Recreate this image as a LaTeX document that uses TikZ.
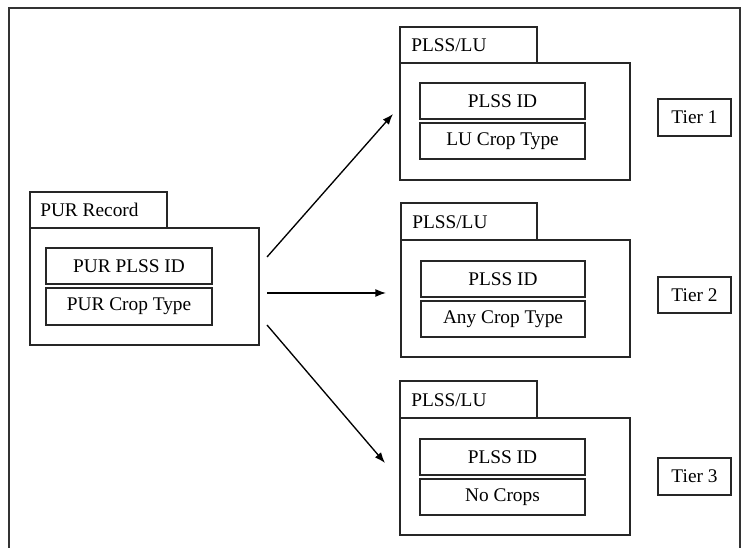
\documentclass[tikz,border=0pt]{standalone}
\usepackage{fontspec}
\setmainfont{Liberation Serif}
\usetikzlibrary{fit,arrows.meta}
\begin{document}
\begin{tikzpicture}[x=0.75pt,y=-0.75pt,
  box/.style={draw=black!85, line width=0.8pt, inner sep=0pt},
  lbl/.style={font=\fontsize{14.5}{16}\selectfont, inner sep=0pt},
  txt/.style={label={[lbl]center:#1}},
  arr/.style={line width=1pt, -{Latex[length=8pt,width=6pt]}}]
\useasboundingbox (0,0) rectangle (743,548);
% outer frame, open at the bottom
\draw[line width=1.2pt, black!80] (9,548) -- (9,8) -- (740,8) -- (740,548);

% PUR record
\node[box, fit={(30,192) (167,228)}] (purtab) {};
\node[lbl, anchor=west] (purtabtxt) at (40,210) {PUR Record};
\node[box, fit={(30,228) (259,345)}] (pur) {};
\node[box, fit={(46,248) (212,284)}, txt={PUR PLSS ID}] (purid) {};
\node[box, fit={(46,288) (212,325)}, txt={PUR Crop Type}] (purcrop) {};

% PLSS/LU tier 1
\node[box, fit={(400,27) (537,63)}] (tabA) {};
\node[lbl, anchor=west] (tabAtxt) at (411,45) {PLSS/LU};
\node[box, fit={(400,63) (630,180)}] (plA) {};
\node[box, fit={(420,83) (585,119)}, txt={PLSS ID}] (idA) {};
\node[box, fit={(420,123) (585,159)}, txt={LU Crop Type}] (cropA) {};
\node[box, fit={(658,99) (731,136)}, txt={Tier 1}] (tierA) {};

% PLSS/LU tier 2
\node[box, fit={(401,203) (537,240)}] (tabB) {};
\node[lbl, anchor=west] (tabBtxt) at (412,222) {PLSS/LU};
\node[box, fit={(401,240) (630,357)}] (plB) {};
\node[box, fit={(421,261) (585,297)}, txt={PLSS ID}] (idB) {};
\node[box, fit={(421,301) (585,337)}, txt={Any Crop Type}] (cropB) {};
\node[box, fit={(658,277) (731,313)}, txt={Tier 2}] (tierB) {};

% PLSS/LU tier 3
\node[box, fit={(400,381) (537,418)}] (tabC) {};
\node[lbl, anchor=west] (tabCtxt) at (411,400) {PLSS/LU};
\node[box, fit={(400,418) (630,535)}] (plC) {};
\node[box, fit={(420,439) (585,475)}, txt={PLSS ID}] (idC) {};
\node[box, fit={(420,479) (585,515)}, txt={No Crops}] (cropC) {};
\node[box, fit={(658,458) (731,495)}, txt={Tier 3}] (tierC) {};

% arrows from the record to each tier
\coordinate (s1) at (267,257);
\coordinate (e1) at (393,114);
\coordinate (s2) at (267,293);
\coordinate (e2) at (386,293);
\coordinate (s3) at (267,325);
\coordinate (e3) at (385,463);
\draw[arr] (s1) -- (e1);
\draw[arr] (s2) -- (e2);
\draw[arr] (s3) -- (e3);
\end{tikzpicture}
\end{document}
